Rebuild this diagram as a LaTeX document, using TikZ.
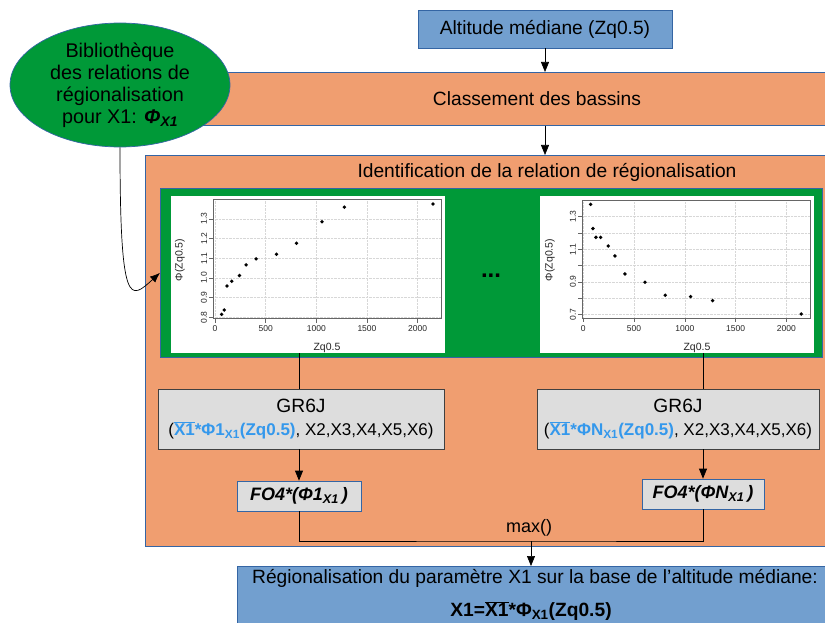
\documentclass[tikz,border=0pt]{standalone}
\usepackage{fontspec}
\setmainfont{Liberation Sans}
\usetikzlibrary{arrows.meta,shapes.geometric}

\definecolor{boxblue}{RGB}{114,159,207}
\definecolor{edgeblue}{RGB}{52,101,164}
\definecolor{boxorange}{RGB}{240,158,112}
\definecolor{libgreen}{RGB}{0,153,56}
\definecolor{boxgray}{RGB}{221,221,221}
\definecolor{txtblue}{RGB}{52,152,236}
\definecolor{gridgray}{RGB}{215,215,215}

\begin{document}
\begin{tikzpicture}[x=1pt, y=-1pt, font=\fontsize{19.2}{23}\selectfont,
  blk/.style={draw=edgeblue, line width=0.7pt, inner sep=0pt},
  gbox/.style={draw=black!75, fill=boxgray, line width=0.7pt, inner sep=0pt, align=center},
  arr/.style={-{Triangle[length=10pt,width=8pt]}, line width=0.7pt},
  ticklab/.style={font=\fontsize{8.5}{10}\selectfont, text=black!85, inner sep=1pt},
  axlab/.style={font=\fontsize{10.5}{12}\selectfont, text=black!85, inner sep=0pt},
  axbox/.style={draw=black!60, line width=0.5pt},
  grid/.style={draw=gridgray, densely dotted, line width=0.4pt}]
% x, y in pixels of the 825 x 623 sketch, y downwards
\clip (0,0) rectangle (825,623);
\node[blk, fill=boxblue, minimum width=254, minimum height=38] (alt) at (545,29) {Altitude médiane (Zq0.5)};
\node[blk, fill=boxorange, minimum width=690, minimum height=53, anchor=north west] (class) at (145,72) {};
\node (classtxt) at (537,99) {Classement des bassins};
\node[blk, fill=boxorange, minimum width=690, minimum height=391, anchor=north west] (ident) at (145,155) {};
\node (identtxt) at (547,172) {Identification de la relation de régionalisation};
\node[blk, fill=libgreen, minimum width=662, minimum height=169, anchor=north west] (frame) at (160,188) {};
\node[fill=white, inner sep=0pt, minimum width=274, minimum height=157, anchor=north west] (plotA) at (171,196) {};
\node[fill=white, inner sep=0pt, minimum width=274, minimum height=157, anchor=north west] (plotN) at (540,196) {};
\node[font=\fontsize{24}{24}\selectfont\bfseries] (dots) at (491,276) {...};
\node[ellipse, blk, fill=libgreen, minimum width=220, minimum height=124, align=center, font=\fontsize{19.8}{22}\selectfont] (lib) at (120,85)
  {Bibliothèque\\des relations de\\régionalisation\\pour X1: {\bfseries\itshape Φ\textsubscript{X1}}};
\draw[-{Latex[length=10pt,width=8pt]}, line width=0.7pt] (lib.south) .. controls (120,310) and (130,300) .. (frame.west);
\draw[arr] (alt.south) -- (alt.south |- class.north);
\draw[arr] (class.south -| alt) -- (ident.north -| alt);

% left plot (Zq0.5 in m, phi)
\begin{scope}[shift={(215,474.9)}, x=0.1013pt, y=197pt]
  \foreach \t in {0,500,...,2000} \draw[grid] (\t,0.793) -- (\t,1.397);
  \foreach \v in {0.8,0.9,1.0,1.1,1.2,1.3} \draw[grid] (-17.4,\v) -- (2235.4,\v);
  \draw[axbox] (-17.4,0.793) rectangle (2235.4,1.397);
  \foreach \t in {0,500,...,2000} \draw[black!60] (\t,0.793) -- ++(0,-4pt) node[ticklab, below=2pt] (xa\t) {\t};
  \foreach \v [count=\i] in {0.8,0.9,1.0,1.1,1.2,1.3} \draw[black!60] (-17.4,\v) -- ++(-4pt,0) node[ticklab, rotate=90, anchor=south, yshift=1pt] (ya\i) {\v};
  \foreach \a/\b in {66/0.815, 92/0.837, 119/0.959, 165/0.983, 241/1.012, 307/1.066, 406/1.097, 607/1.12, 805/1.176, 1056/1.285, 1277/1.359, 2152/1.375}
    \fill (\a,\b) circle[radius=1.9pt];
\end{scope}
\node[axlab] (xlabA) at (327,348) {Zq0.5};
\node[axlab, rotate=90] (ylabA) at (180,260) {Φ(Zq0.5)};

% right plot
\begin{scope}[shift={(583.3,428.2)}, x=0.1015pt, y=162.7pt]
  \foreach \t in {0,500,...,2000} \draw[grid] (\t,0.675) -- (\t,1.403);
  \foreach \v in {0.7,0.8,0.9,1.0,1.1,1.2,1.3} \draw[grid] (-11,\v) -- (2231,\v);
  \draw[axbox] (-11,0.675) rectangle (2231,1.403);
  \foreach \t in {0,500,...,2000} \draw[black!60] (\t,0.675) -- ++(0,-4pt) node[ticklab, below=2pt] (xn\t) {\t};
  \foreach \v in {0.8,1.0,1.2} \draw[black!60] (-11,\v) -- ++(-4pt,0);
  \foreach \v [count=\i] in {0.7,0.9,1.1,1.3} \draw[black!60] (-11,\v) -- ++(-4pt,0) node[ticklab, rotate=90, anchor=south, yshift=1pt] (yn\i) {\v};
  \foreach \a/\b in {72/1.376, 95/1.227, 125/1.173, 171/1.173, 246/1.12, 312/1.059, 410/0.948, 608/0.897, 808/0.817, 1057/0.809, 1274/0.784, 2148/0.702}
    \fill (\a,\b) circle[radius=1.9pt];
\end{scope}
\node[axlab] (xlabN) at (697,348) {Zq0.5};
\node[axlab, rotate=90] (ylabN) at (550,260) {Φ(Zq0.5)};

% model runs
\node[gbox, minimum width=286, minimum height=60] (gA) at (301,419)
  {GR6J\\{\fontsize{17}{20}\selectfont(\textcolor{txtblue}{\bfseries$\overline{\mbox{X1}}$*Φ1\textsubscript{X1}(Zq0.5)}, X2,X3,X4,X5,X6)}};
\node[gbox, minimum width=282, minimum height=60] (gN) at (678,419)
  {GR6J\\{\fontsize{17}{20}\selectfont(\textcolor{txtblue}{\bfseries$\overline{\mbox{X1}}$*ΦN\textsubscript{X1}(Zq0.5)}, X2,X3,X4,X5,X6)}};
\node[blk, fill=boxgray, minimum width=124, minimum height=30, font=\fontsize{18}{20}\selectfont] (fA) at (299,496) {\bfseries\itshape FO4*(Φ1\textsubscript{X1}\,)};
\node[blk, fill=boxgray, minimum width=122, minimum height=30, font=\fontsize{18}{20}\selectfont] (fN) at (703,494) {\bfseries\itshape FO4*(ΦN\textsubscript{X1}\,)};
\draw[line width=0.7pt] (plotA.south -| fA) -- (gA.north -| fA);
\draw[line width=0.7pt] (plotN.south -| fN) -- (gN.north -| fN);
\draw[arr] (gA.south -| fA) -- (fA.north);
\draw[arr] (gN.south -| fN) -- (fN.north);
\coordinate (join) at (531,541);
\draw[line width=0.7pt] (fA.south) |- (join) -| (fN.south);
\node[font=\fontsize{18}{20}\selectfont] (maxlbl) at (529,528) {max()};

% result
\node[blk, fill=boxblue, minimum width=600, minimum height=70, anchor=north west] (res) at (237,566) {};
\draw[arr] (join) -- (join |- res.north);
\node (restxt) at (535,578) {Régionalisation du paramètre X1 sur la base de l’altitude médiane:};
\node (resform) at (531,611) {\bfseries X1=$\overline{\mbox{X1}}$*Φ\textsubscript{X1}(Zq0.5)};
\end{tikzpicture}
\end{document}
